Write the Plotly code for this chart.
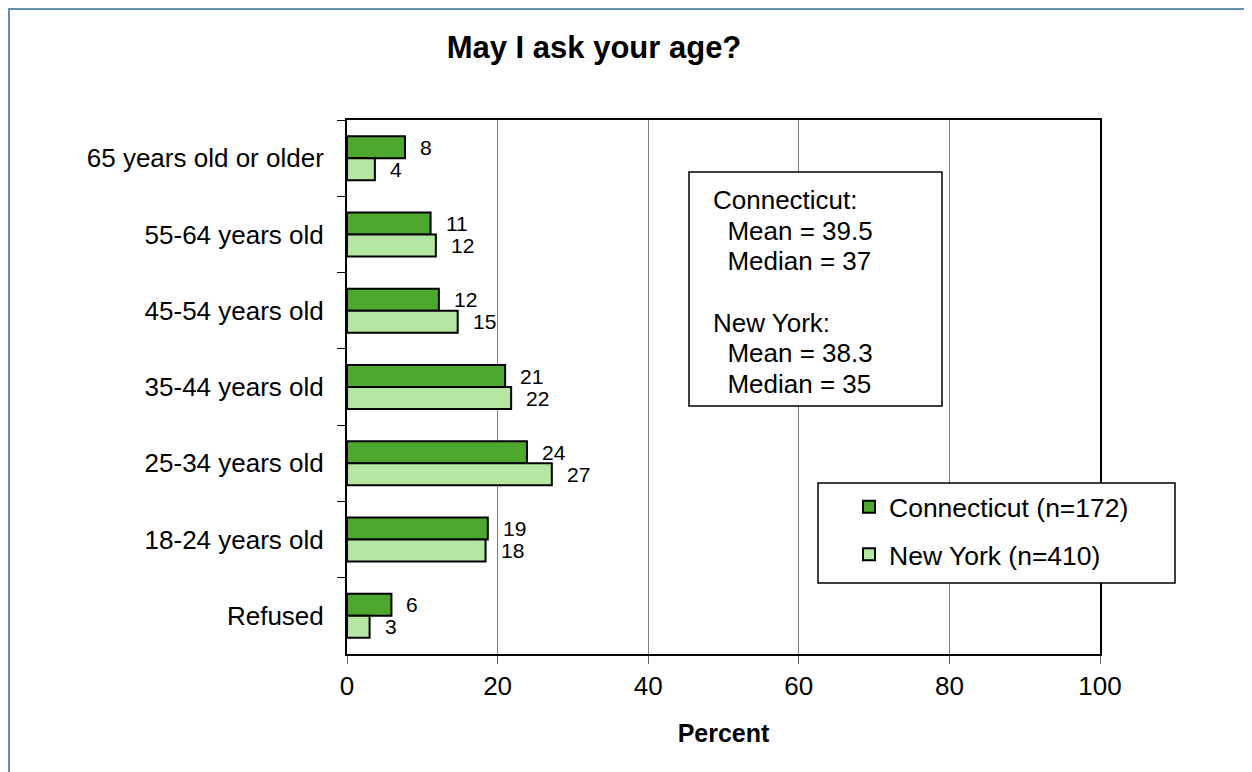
import plotly.graph_objects as go

# ---- data ----
categories = ["65 years old or older", "55-64 years old", "45-54 years old",
              "35-44 years old", "25-34 years old", "18-24 years old", "Refused"]
ct_values = [7.7, 11.1, 12.2, 21.0, 23.9, 18.7, 5.9]
ny_values = [3.7, 11.8, 14.7, 21.8, 27.2, 18.4, 3.0]
series_names = ["Connecticut (n=172)", "New York (n=410)"]
x_ticks = [0, 20, 40, 60, 80, 100]
stats_lines = ["Connecticut:", "\u00a0\u00a0Mean = 39.5", "\u00a0\u00a0Median = 37", "",
               "New York:", "\u00a0\u00a0Mean = 38.3", "\u00a0\u00a0Median = 35"]
title_text = "May I ask your age?"
x_title = "Percent"

# ---- styles ----
FONT = "Liberation Sans, Arial, sans-serif"
CT_COLOR = "#4ea72e"
NY_COLOR = "#b5e6a2"

OFF = 8  # page body margin
W, H = 1252 - OFF, 772 - OFF
L, T = 347 - OFF, 120 - OFF
pw, ph = 753, 534
R, B = W - L - pw, H - T - ph


def px_x(p):  # screen pixel -> paper
    return (p - OFF - L) / pw


def px_y(p):
    return 1 - (p - OFF - T) / ph


fig = go.Figure()
fig.add_bar(name=series_names[0], y=categories, x=ct_values, orientation="h",
            marker=dict(color=CT_COLOR, line=dict(color="black", width=2)),
            legendgroup="ct")
fig.add_bar(name=series_names[1], y=categories, x=ny_values, orientation="h",
            marker=dict(color=NY_COLOR, line=dict(color="black", width=2)),
            legendgroup="ny")

annotations = []
for vals, shift in ((ct_values, 11), (ny_values, -11)):
    for cat, v in zip(categories, vals):
        annotations.append(dict(x=v, y=cat, xref="x", yref="y", text=f"{v:.0f}",
                                showarrow=False, xanchor="left", yanchor="middle",
                                xshift=13, yshift=shift,
                                font=dict(size=21, color="black", family=FONT)))

first_line_px, line_step = 200, 30.67
for i, line in enumerate(stats_lines):
    if not line:
        continue
    annotations.append(dict(x=px_x(711), y=px_y(first_line_px + i * line_step),
                            xref="paper", yref="paper", text=line, align="left",
                            showarrow=False, xanchor="left", yanchor="middle",
                            font=dict(size=26, color="black", family=FONT)))

shapes = [
    # outer frame (left and top edges visible)
    dict(type="rect", xref="paper", yref="paper", x0=px_x(OFF + 1), x1=px_x(1300),
         y0=px_y(820), y1=px_y(OFF + 1), line=dict(color="#5f92aa", width=2),
         fillcolor="rgba(0,0,0,0)", layer="below"),
    # stats box
    dict(type="rect", xref="paper", yref="paper", x0=px_x(689), x1=px_x(942),
         y0=px_y(406), y1=px_y(172), line=dict(color="black", width=1.5),
         fillcolor="white", layer="above"),
    # legend box
    dict(type="rect", xref="paper", yref="paper", x0=px_x(818), x1=px_x(1175),
         y0=px_y(583), y1=px_y(483), line=dict(color="black", width=1.5),
         fillcolor="white", layer="above"),
]

fig.update_layout(
    width=W, height=H,
    margin=dict(l=L, r=R, t=T, b=B, autoexpand=False),
    paper_bgcolor="white", plot_bgcolor="white",
    font=dict(family=FONT, color="black", size=26),
    title=dict(text=f"<b>{title_text}</b>", x=(594 - OFF) / W, y=1 - (47 - OFF) / H,
               xanchor="center", yanchor="middle", xref="container", yref="container",
               font=dict(size=31, color="black", family=FONT)),
    barmode="group", bargap=0.423, bargroupgap=0,
    showlegend=True,
    legend=dict(x=px_x(849), y=px_y(483), xanchor="left", yanchor="top",
                bgcolor="rgba(0,0,0,0)", borderwidth=0, traceorder="grouped",
                tracegroupgap=10, font=dict(size=26.5, color="black", family=FONT)),
    annotations=annotations,
    shapes=shapes,
)

fig.update_xaxes(range=[0, 100], tickvals=x_ticks, showgrid=True, gridcolor="#808080",
                 gridwidth=1, zeroline=False, ticks="outside", ticklen=8, tickcolor="#666666",
                 showline=True, linecolor="black", linewidth=2, mirror=True,
                 tickfont=dict(size=26), title=dict(text=f"<b>{x_title}</b>",
                                                    font=dict(size=25), standoff=24))
fig.update_yaxes(type="category", autorange="reversed", tickson="boundaries",
                 ticks="outside", ticklen=8, tickcolor="black", showgrid=False,
                 showline=True, linecolor="black", linewidth=2, mirror=True,
                 tickfont=dict(size=26), ticklabelstandoff=16)

fig.write_html("out.html")
